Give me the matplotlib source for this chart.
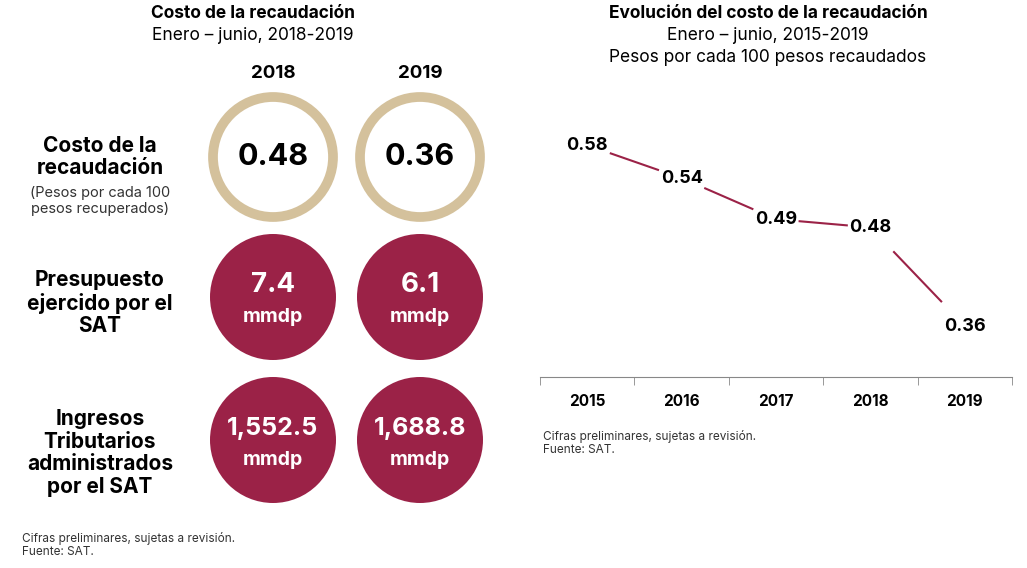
import matplotlib
matplotlib.use("Agg")
import matplotlib.pyplot as plt
from matplotlib.patches import Circle

plt.rcParams["font.family"] = ["Inter", "DejaVu Sans"]

WINE = "#9b2247"
GOLD = "#d4c19c"

years_left = ["2018", "2019"]
row_labels = ["Costo de la\nrecaudación", "Presupuesto\nejercido por el\nSAT",
              "Ingresos\nTributarios\nadministrados\npor el SAT"]
costo = ["0.48", "0.36"]
presupuesto = ["7.4\nmmdp", "6.1\nmmdp"]
ingresos = ["1,552.5\nmmdp", "1,688.8\nmmdp"]

years = ["2015", "2016", "2017", "2018", "2019"]
cost_series = [0.58, 0.54, 0.49, 0.48, 0.36]

fig = plt.figure(figsize=(10.27, 5.68), dpi=100)

# left panel drawn in pixel coordinates
bg = fig.add_axes([0, 0, 1, 1])
bg.set_xlim(0, 1027)
bg.set_ylim(568, 0)
bg.axis("off")

bg.text(253, 14, "Costo de la recaudación", ha="center", va="center", fontsize=12.5, fontweight="bold")
bg.text(253, 36, "Enero – junio, 2018-2019", ha="center", va="center", fontsize=12.5)
cx = [273, 420]
for x, y in zip(cx, years_left):
    bg.text(x, 73, y, ha="center", va="center", fontsize=13.5, fontweight="bold")

rows_y = [157, 297, 440]
for x, v in zip(cx, costo):
    bg.add_patch(Circle((x, rows_y[0]), 60, facecolor="white", edgecolor=GOLD, linewidth=7))
    bg.text(x, rows_y[0], v, ha="center", va="center", fontsize=22, fontweight="bold")
for vals, y in [(presupuesto, rows_y[1]), (ingresos, rows_y[2])]:
    for x, v in zip(cx, vals):
        bg.add_patch(Circle((x, y), 63, facecolor=WINE, edgecolor="none"))
        top, bot = v.split("\n")
        bg.text(x, y - 12, top, ha="center", va="center", fontsize=20 if len(top) < 5 else 18,
                fontweight="bold", color="white")
        bg.text(x, y + 20, bot, ha="center", va="center", fontsize=14, fontweight="bold", color="white")

bg.text(100, 157, row_labels[0], ha="center", va="center", fontsize=15, fontweight="bold", linespacing=1.1)
bg.text(100, 201, "(Pesos por cada 100\npesos recuperados)", ha="center", va="center", fontsize=10.5,
        color="#333333", linespacing=1.15)
bg.text(100, 303, row_labels[1], ha="center", va="center", fontsize=15, fontweight="bold", linespacing=1.15)
bg.text(100, 453, row_labels[2], ha="center", va="center", fontsize=15, fontweight="bold", linespacing=1.15)
bg.text(22, 545, "Cifras preliminares, sujetas a revisión.\nFuente: SAT.", ha="left", va="center",
        fontsize=8.5, color="#333333", linespacing=1.2)

bg.text(768, 14, "Evolución del costo de la recaudación", ha="center", va="center", fontsize=12.5, fontweight="bold")
bg.text(768, 36, "Enero – junio, 2015-2019", ha="center", va="center", fontsize=12.5)
bg.text(768, 58, "Pesos por cada 100 pesos recaudados", ha="center", va="center", fontsize=12.5)
bg.text(543, 443, "Cifras preliminares, sujetas a revisión.\nFuente: SAT.", ha="left", va="center",
        fontsize=8.5, color="#333333", linespacing=1.2)

# right line chart
ax = fig.add_axes([540 / 1027, 1 - 377 / 568, 472 / 1027, 277 / 568])
ax.set_xlim(-0.5, 4.5)
ax.set_ylim(0.298, 0.635)
for i in range(len(cost_series) - 1):
    x0, x1 = i, i + 1
    y0, y1 = cost_series[i], cost_series[i + 1]
    a, b = 0.25, 0.75
    ax.plot([x0 + a * (x1 - x0), x0 + b * (x1 - x0)],
            [y0 + a * (y1 - y0), y0 + b * (y1 - y0)], color=WINE, linewidth=1.5)
for i, v in enumerate(cost_series):
    ax.text(i, v, f"{v:.2f}", ha="center", va="center", fontsize=13, fontweight="bold")
for s in ["top", "right", "left"]:
    ax.spines[s].set_visible(False)
ax.spines["bottom"].set_color("#888888")
ax.set_yticks([])
ax.set_xticks(range(len(years)))
ax.set_xticklabels(years, fontsize=11, fontweight="bold")
ax.tick_params(axis="x", which="major", length=0, pad=12)
ax.set_xticks([i - 0.5 for i in range(len(years) + 1)], minor=True)
ax.tick_params(axis="x", which="minor", length=6, color="#888888")

fig.savefig("out.png", dpi=100)
